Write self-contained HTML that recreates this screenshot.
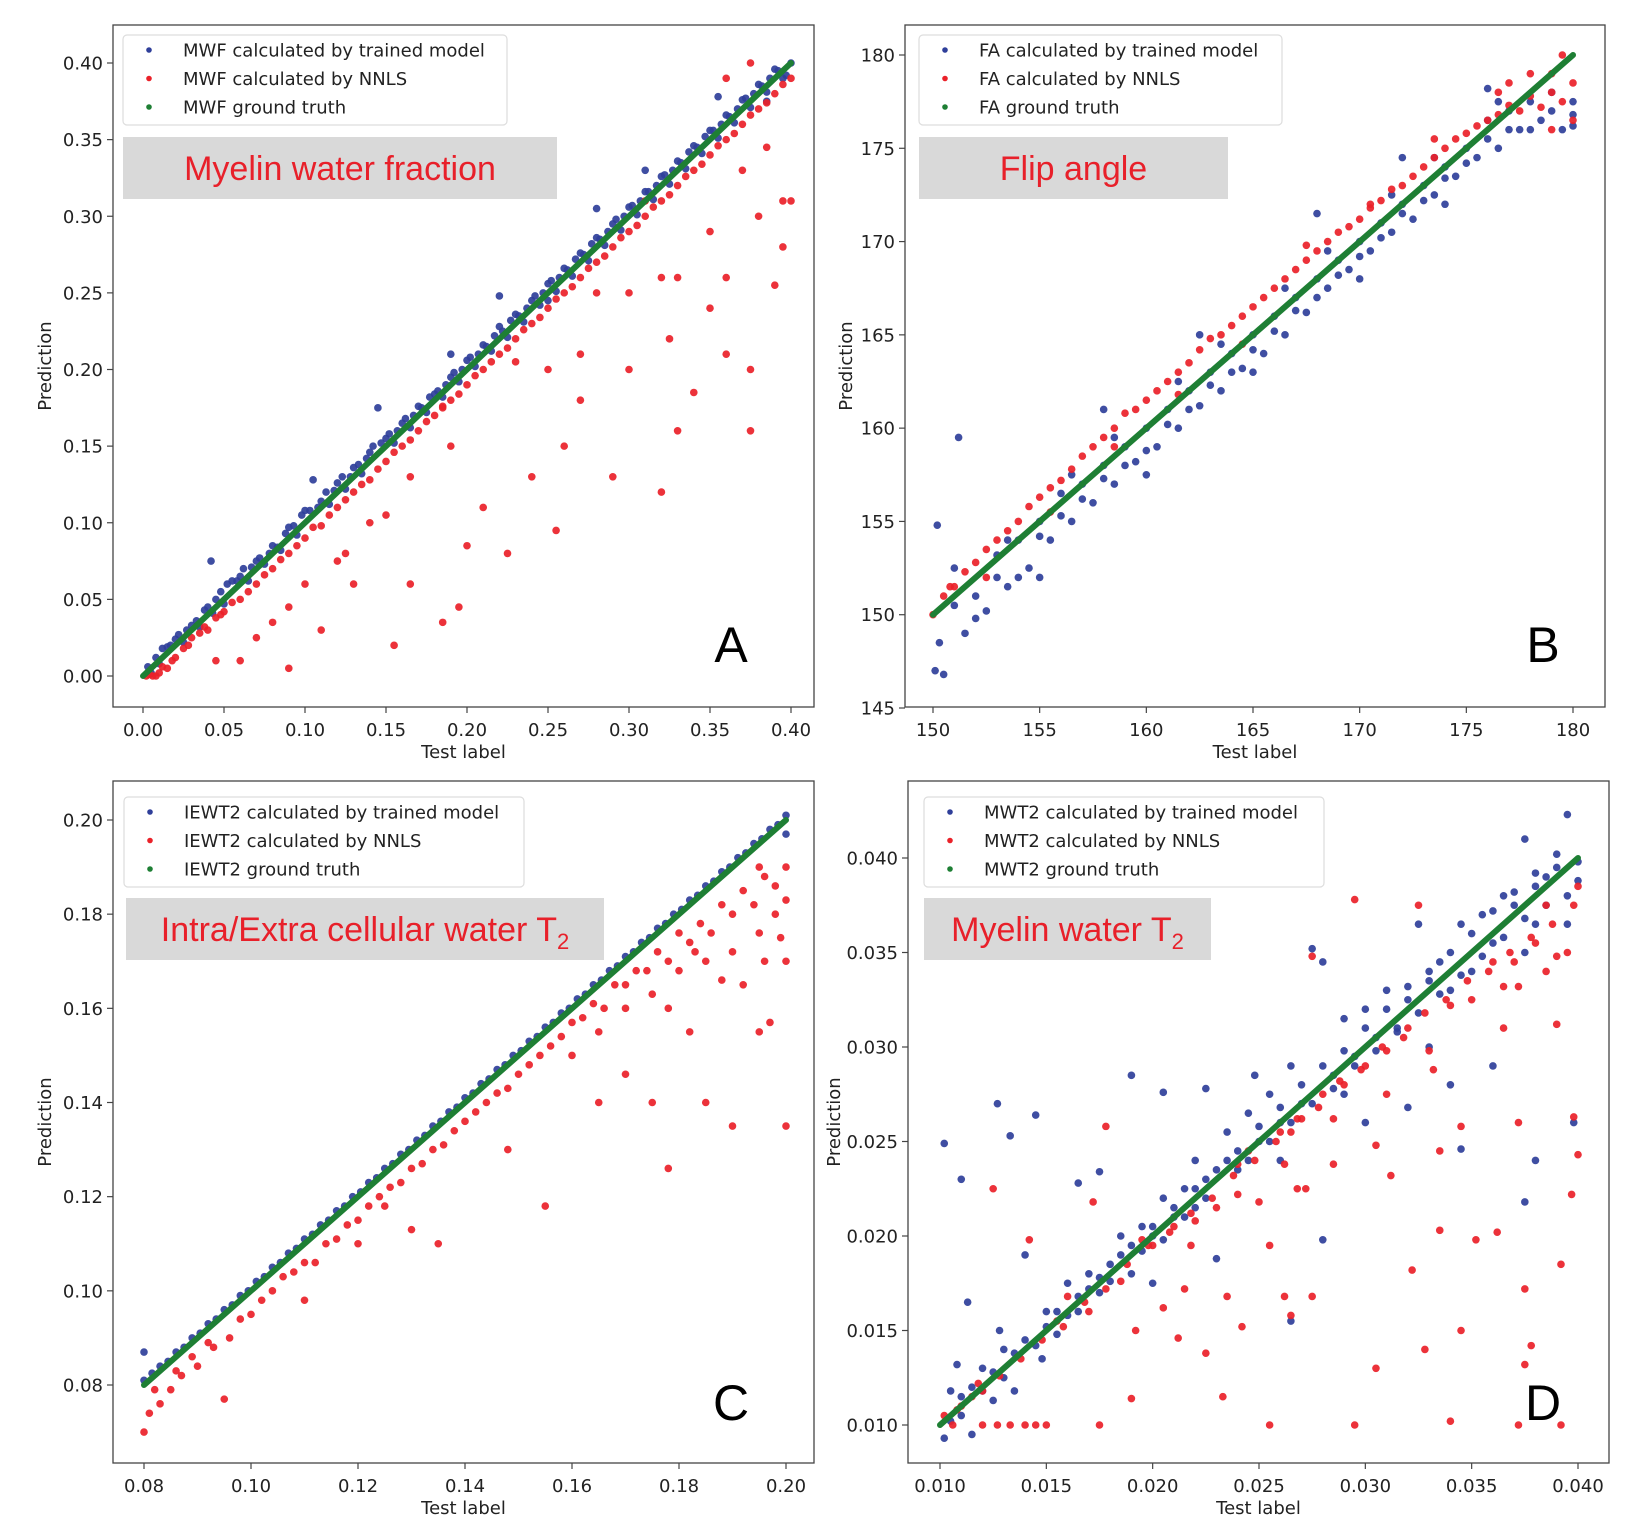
<!DOCTYPE html>
<html><head><meta charset="utf-8"><style>
html,body{margin:0;padding:0;background:#fff;}
svg{display:block;font-family:"DejaVu Sans","Liberation Sans",sans-serif;}
</style></head><body>
<svg id="fig" width="1636" height="1536" viewBox="0 0 1636 1536" xmlns="http://www.w3.org/2000/svg"></svg>
<script>
// ---------- Panel A data (MWF) ----------
const aBlue = [[0.003,0.006],[0.008,0.012],[0.012,0.018],[0.017,0.02],[0.022,0.027],[0.027,0.03],[0.033,0.036],[0.038,0.043],[0.043,0.041],[0.048,0.055],[0.052,0.06],[0.058,0.062],[0.062,0.07],[0.067,0.071],[0.072,0.077],[0.078,0.08],[0.083,0.084],[0.088,0.093],[0.093,0.098],[0.098,0.105],[0.103,0.108],[0.108,0.11],[0.113,0.12],[0.118,0.121],[0.123,0.13],[0.128,0.13],[0.133,0.138],[0.138,0.142],[0.142,0.15],[0.147,0.152],[0.152,0.158],[0.157,0.16],[0.162,0.168],[0.167,0.17],[0.172,0.175],[0.177,0.182],[0.182,0.186],[0.187,0.19],[0.192,0.198],[0.197,0.2],[0.202,0.208],[0.207,0.21],[0.212,0.215],[0.217,0.222],[0.222,0.225],[0.227,0.232],[0.232,0.235],[0.237,0.24],[0.242,0.248],[0.247,0.25],[0.252,0.258],[0.257,0.26],[0.262,0.265],[0.267,0.272],[0.272,0.275],[0.277,0.282],[0.282,0.285],[0.287,0.29],[0.292,0.298],[0.297,0.3],[0.302,0.307],[0.307,0.31],[0.312,0.316],[0.317,0.32],[0.322,0.327],[0.327,0.33],[0.332,0.335],[0.337,0.342],[0.342,0.345],[0.347,0.352],[0.352,0.356],[0.357,0.36],[0.362,0.365],[0.367,0.37],[0.372,0.377],[0.377,0.38],[0.382,0.385],[0.387,0.39],[0.392,0.395],[0.397,0.392],[0.145,0.175],[0.22,0.248],[0.28,0.305],[0.355,0.378],[0.042,0.075],[0.105,0.128],[0.19,0.21],[0.31,0.33],[0.385,0.375],[0.25,0.245]];
const aBlue2 = [[0.005,0.002],[0.01,0.008],[0.015,0.019],[0.02,0.024],[0.025,0.022],[0.03,0.033],[0.035,0.032],[0.04,0.045],[0.045,0.05],[0.05,0.047],[0.055,0.062],[0.06,0.065],[0.065,0.062],[0.07,0.075],[0.075,0.073],[0.08,0.085],[0.085,0.082],[0.09,0.097],[0.095,0.092],[0.1,0.108],[0.11,0.114],[0.115,0.112],[0.12,0.126],[0.125,0.122],[0.13,0.136],[0.135,0.132],[0.14,0.146],[0.15,0.155],[0.155,0.152],[0.16,0.165],[0.165,0.162],[0.17,0.176],[0.175,0.172],[0.18,0.184],[0.185,0.182],[0.19,0.195],[0.195,0.192],[0.2,0.206],[0.205,0.202],[0.21,0.216],[0.215,0.212],[0.22,0.228],[0.225,0.221],[0.23,0.236],[0.235,0.231],[0.24,0.245],[0.245,0.242],[0.25,0.256],[0.255,0.251],[0.26,0.266],[0.265,0.261],[0.27,0.276],[0.275,0.271],[0.28,0.286],[0.285,0.281],[0.29,0.295],[0.295,0.291],[0.3,0.306],[0.305,0.301],[0.31,0.316],[0.315,0.311],[0.32,0.326],[0.325,0.321],[0.33,0.336],[0.335,0.331],[0.34,0.346],[0.345,0.341],[0.35,0.356],[0.355,0.351],[0.36,0.366],[0.365,0.361],[0.37,0.376],[0.375,0.371],[0.38,0.386],[0.385,0.381],[0.39,0.396],[0.395,0.39],[0.4,0.4]];
const aRed = [[0.002,0.0],[0.006,0.0],[0.01,0.002],[0.015,0.005],[0.02,0.012],[0.025,0.018],[0.03,0.025],[0.035,0.028],[0.04,0.03],[0.045,0.038],[0.05,0.042],[0.06,0.05],[0.07,0.06],[0.08,0.07],[0.09,0.08],[0.1,0.09],[0.11,0.098],[0.12,0.11],[0.13,0.12],[0.14,0.128],[0.15,0.14],[0.16,0.15],[0.17,0.16],[0.18,0.17],[0.19,0.18],[0.2,0.19],[0.21,0.2],[0.22,0.21],[0.23,0.22],[0.24,0.23],[0.25,0.24],[0.26,0.25],[0.27,0.26],[0.28,0.27],[0.29,0.28],[0.3,0.29],[0.31,0.3],[0.32,0.31],[0.33,0.32],[0.34,0.33],[0.35,0.34],[0.36,0.35],[0.37,0.36],[0.38,0.37],[0.39,0.38],[0.4,0.39],[0.045,0.01],[0.06,0.01],[0.09,0.005],[0.11,0.03],[0.09,0.045],[0.07,0.025],[0.13,0.06],[0.125,0.08],[0.155,0.02],[0.165,0.06],[0.185,0.035],[0.195,0.045],[0.2,0.085],[0.21,0.11],[0.225,0.08],[0.24,0.13],[0.255,0.095],[0.26,0.15],[0.27,0.18],[0.29,0.13],[0.3,0.2],[0.32,0.12],[0.325,0.22],[0.33,0.16],[0.34,0.185],[0.35,0.24],[0.36,0.26],[0.375,0.16],[0.375,0.2],[0.38,0.3],[0.39,0.255],[0.395,0.28],[0.4,0.31],[0.395,0.31],[0.37,0.33],[0.33,0.26],[0.36,0.21],[0.28,0.25],[0.3,0.25],[0.19,0.15],[0.165,0.13],[0.15,0.105],[0.185,0.175],[0.23,0.205],[0.14,0.1],[0.1,0.06],[0.12,0.075],[0.08,0.035],[0.25,0.2],[0.27,0.21],[0.32,0.26],[0.35,0.29],[0.385,0.345],[0.375,0.4],[0.36,0.39],[0.31,0.31]];
const aRed2 = [[0.004,0.001],[0.008,0.0],[0.012,0.006],[0.018,0.01],[0.028,0.02],[0.038,0.032],[0.048,0.04],[0.055,0.048],[0.065,0.055],[0.075,0.066],[0.085,0.076],[0.095,0.085],[0.105,0.097],[0.115,0.105],[0.125,0.115],[0.135,0.125],[0.145,0.135],[0.155,0.146],[0.165,0.154],[0.175,0.166],[0.185,0.176],[0.195,0.184],[0.205,0.196],[0.215,0.205],[0.225,0.214],[0.235,0.226],[0.245,0.234],[0.255,0.246],[0.265,0.254],[0.275,0.266],[0.285,0.274],[0.295,0.286],[0.305,0.294],[0.315,0.306],[0.325,0.314],[0.335,0.326],[0.345,0.334],[0.355,0.346],[0.365,0.354],[0.375,0.366],[0.385,0.374],[0.395,0.386]];
const aTruth = [[0,0],[0.1,0.1],[0.2,0.2],[0.3,0.3],[0.4,0.4]];
const aTicks = ["0.00","0.05","0.10","0.15","0.20","0.25","0.30","0.35","0.40"];

// ---------- Panel B data (FA) ----------
const bBlue = [[150.1,147],[150.3,148.5],[150.5,146.8],[150.2,154.8],[151,152.5],[151.5,149],[152,151],[152.5,150.2],[153,152],[153.5,151.5],[154,154],[154.5,152.5],[155,155],[155.5,154],[156,156.5],[156.5,155],[157,157],[157.5,156],[158,158],[158.5,157],[159,159],[159.5,158.2],[160,160],[160.5,159],[161,161],[161.5,160],[162,162],[162.5,161.2],[163,163],[163.5,162],[164,164],[164.5,163.2],[165,165],[165.5,164],[166,166],[166.5,165],[167,167],[167.5,166.2],[168,168],[168.5,167.5],[169,169],[169.5,168.5],[170,170],[170.5,169.5],[171,171],[171.5,170.5],[172,172],[172.5,171.2],[173,173],[173.5,172.5],[174,174],[174.5,173.5],[175,175],[175.5,174.5],[176,176.5],[176.5,175],[177,177],[177.5,176],[178,177.5],[178.5,176.5],[179,177],[179.5,176],[180,177.5],[180,176.2],[151.2,159.5],[158,161],[162.5,165],[168,171.5],[172,174.5],[176,178.2],[155,152],[160,157.5],[165,163],[170,168],[174,172]];
const bBlue2 = [[151,150.5],[152,149.8],[153,153.2],[154,152],[155,154.2],[156,155.3],[157,156.2],[158,157.3],[159,158],[160,158.8],[161,160.2],[162,161],[163,162.3],[164,163],[165,164.2],[166,165.2],[167,166.3],[168,167],[169,168.2],[170,169.2],[171,170.2],[172,171.5],[173,172.2],[174,173.4],[175,174.2],[176,175.5],[177,176],[178,176],[179,178],[180,176.8],[156.5,157.5],[161.5,162.5],[166.5,167.5],[171.5,172.5],[176.5,177.5],[153.5,154],[158.5,159.5],[163.5,164.5],[168.5,169.5],[173.5,174.5]];
const bRed = [[150,150],[150.5,151],[151,151.5],[152,152.8],[153,154],[154,155],[155,156.3],[156,157.2],[157,158.5],[158,159.5],[159,160.8],[160,161.5],[161,162.5],[162,163.5],[163,164.8],[164,165.5],[165,166.5],[166,167.5],[167,168.5],[168,169.5],[169,170.5],[170,171.2],[171,172.2],[172,173],[173,174],[174,175],[175,175.8],[176,176.5],[177,177.3],[178,177.8],[179,178],[180,178.5],[180,176.5],[179,176],[178,179],[152.5,152],[155.5,155.5],[158.5,159],[161.5,161.8],[164.5,164.5],[167.5,169.8],[170.5,172],[173.5,175.5],[176.5,178],[179.5,180]];
const bRed2 = [[150.8,151.5],[151.5,152.3],[152.5,153.5],[153.5,154.5],[154.5,155.8],[155.5,156.8],[156.5,157.8],[157.5,159],[158.5,160],[159.5,161],[160.5,162],[161.5,163],[162.5,164.2],[163.5,165],[164.5,166],[165.5,167],[166.5,168],[167.5,169],[168.5,170],[169.5,170.8],[170.5,171.8],[171.5,172.8],[172.5,173.5],[173.5,174.5],[174.5,175.5],[175.5,176.2],[176.5,176.8],[177.5,177],[178.5,177.2],[179.5,177.5],[179,179],[177,178.5]];
const bTruth = [[150,150],[160,160],[170,170],[180,180]];
const bXTicks = ["150","155","160","165","170","175","180"];
const bYTicks = ["145","150","155","160","165","170","175","180"];

// ---------- Panel C data (IEWT2) ----------
const cBlue = [[0.080,0.081],[0.083,0.084],[0.086,0.087],[0.089,0.09],[0.092,0.093],[0.095,0.096],[0.098,0.099],[0.101,0.102],[0.104,0.105],[0.107,0.108],[0.11,0.111],[0.113,0.114],[0.116,0.117],[0.119,0.12],[0.122,0.123],[0.125,0.126],[0.128,0.129],[0.131,0.132],[0.134,0.135],[0.137,0.138],[0.14,0.141],[0.143,0.144],[0.146,0.147],[0.149,0.15],[0.152,0.153],[0.155,0.156],[0.158,0.159],[0.161,0.162],[0.164,0.165],[0.167,0.168],[0.17,0.171],[0.173,0.174],[0.176,0.177],[0.179,0.18],[0.182,0.183],[0.185,0.186],[0.188,0.189],[0.191,0.192],[0.194,0.195],[0.197,0.198],[0.2,0.201],[0.08,0.087],[0.2,0.197]];
const cBlue2 = [[0.0815,0.0825],[0.0845,0.085],[0.0875,0.088],[0.0905,0.091],[0.0935,0.094],[0.0965,0.097],[0.0995,0.1],[0.1025,0.103],[0.1055,0.106],[0.1085,0.109],[0.1115,0.112],[0.1145,0.115],[0.1175,0.118],[0.1205,0.121],[0.1235,0.124],[0.1265,0.127],[0.1295,0.13],[0.1325,0.133],[0.1355,0.136],[0.1385,0.139],[0.1415,0.142],[0.1445,0.145],[0.1475,0.148],[0.1505,0.151],[0.1535,0.154],[0.1565,0.157],[0.1595,0.16],[0.1625,0.163],[0.1655,0.166],[0.1685,0.169],[0.1715,0.172],[0.1745,0.175],[0.1775,0.178],[0.1805,0.181],[0.1835,0.184],[0.1865,0.187],[0.1895,0.19],[0.1925,0.193],[0.1955,0.196],[0.1985,0.199]];
const cRed = [[0.08,0.07],[0.081,0.074],[0.083,0.076],[0.085,0.079],[0.087,0.082],[0.09,0.084],[0.093,0.088],[0.096,0.09],[0.1,0.095],[0.104,0.1],[0.108,0.104],[0.112,0.106],[0.116,0.111],[0.12,0.115],[0.124,0.12],[0.128,0.123],[0.132,0.127],[0.136,0.131],[0.14,0.136],[0.144,0.14],[0.148,0.143],[0.152,0.148],[0.156,0.152],[0.16,0.157],[0.164,0.161],[0.168,0.165],[0.172,0.168],[0.176,0.172],[0.18,0.176],[0.184,0.178],[0.188,0.182],[0.192,0.185],[0.196,0.188],[0.2,0.19],[0.198,0.18],[0.195,0.176],[0.19,0.172],[0.185,0.17],[0.18,0.168],[0.175,0.163],[0.17,0.16],[0.165,0.155],[0.16,0.15],[0.155,0.118],[0.178,0.126],[0.185,0.14],[0.19,0.135],[0.195,0.155],[0.2,0.135],[0.197,0.157],[0.2,0.17],[0.192,0.165],[0.175,0.14],[0.17,0.146],[0.165,0.14],[0.148,0.13],[0.135,0.11],[0.13,0.113],[0.125,0.118],[0.11,0.098],[0.095,0.077],[0.12,0.11],[0.182,0.155],[0.2,0.183],[0.195,0.19]];
const cRed2 = [[0.082,0.079],[0.086,0.083],[0.089,0.086],[0.092,0.089],[0.098,0.094],[0.102,0.098],[0.106,0.103],[0.11,0.106],[0.114,0.11],[0.118,0.114],[0.122,0.118],[0.126,0.122],[0.13,0.126],[0.134,0.13],[0.138,0.134],[0.142,0.138],[0.146,0.142],[0.15,0.146],[0.154,0.15],[0.158,0.154],[0.162,0.158],[0.166,0.16],[0.17,0.165],[0.174,0.168],[0.178,0.17],[0.182,0.174],[0.186,0.176],[0.19,0.18],[0.194,0.182],[0.198,0.186],[0.199,0.175],[0.196,0.17],[0.188,0.166],[0.183,0.172],[0.178,0.16]];
const cTruth = [[0.08,0.08],[0.12,0.12],[0.16,0.16],[0.2,0.2]];
const cTicks = ["0.08","0.10","0.12","0.14","0.16","0.18","0.20"];

// ---------- Panel D data (MWT2) ----------
const dBlue = [[0.0102,0.0093],[0.0105,0.0118],[0.011,0.0105],[0.0108,0.0132],[0.0115,0.0095],[0.012,0.013],[0.0125,0.0113],[0.013,0.014],[0.0102,0.0249],[0.011,0.023],[0.0127,0.027],[0.0133,0.0253],[0.0145,0.0264],[0.014,0.019],[0.015,0.016],[0.0155,0.0148],[0.016,0.0175],[0.0165,0.016],[0.017,0.018],[0.0175,0.017],[0.018,0.0185],[0.0185,0.02],[0.019,0.0285],[0.0205,0.0276],[0.019,0.018],[0.0195,0.0205],[0.02,0.02],[0.0205,0.022],[0.021,0.021],[0.0215,0.0225],[0.022,0.0215],[0.0225,0.023],[0.023,0.0188],[0.0235,0.0255],[0.024,0.0235],[0.0245,0.0265],[0.025,0.025],[0.0255,0.0275],[0.026,0.026],[0.0265,0.029],[0.027,0.027],[0.0275,0.0352],[0.028,0.0345],[0.0285,0.0285],[0.029,0.0315],[0.0295,0.0295],[0.03,0.032],[0.0305,0.0305],[0.031,0.033],[0.0315,0.031],[0.032,0.0325],[0.0325,0.0365],[0.033,0.03],[0.0335,0.0345],[0.034,0.033],[0.0345,0.0365],[0.035,0.034],[0.0355,0.037],[0.036,0.0355],[0.0365,0.038],[0.037,0.0375],[0.0375,0.041],[0.038,0.0385],[0.0385,0.039],[0.039,0.0395],[0.0395,0.0423],[0.04,0.0398],[0.0395,0.0365],[0.0375,0.0218],[0.038,0.024],[0.0398,0.026],[0.034,0.028],[0.036,0.029],[0.032,0.0268],[0.03,0.026],[0.0265,0.0155],[0.0248,0.0285],[0.0225,0.0278],[0.0175,0.0234],[0.0165,0.0228],[0.028,0.0198],[0.0345,0.0246],[0.038,0.0365],[0.0375,0.035],[0.033,0.0335],[0.029,0.0275],[0.0135,0.0118],[0.0128,0.015],[0.0113,0.0165],[0.0148,0.0135],[0.02,0.0175],[0.022,0.024],[0.026,0.024]];
const dBlue2 = [[0.0105,0.0102],[0.011,0.0115],[0.0115,0.012],[0.012,0.0118],[0.0125,0.0128],[0.013,0.0125],[0.0135,0.0138],[0.014,0.0145],[0.0145,0.0142],[0.015,0.0152],[0.0155,0.016],[0.016,0.0158],[0.0165,0.0168],[0.017,0.0172],[0.0175,0.0178],[0.018,0.0176],[0.0185,0.019],[0.019,0.0195],[0.0195,0.0192],[0.02,0.0205],[0.0205,0.0198],[0.021,0.0215],[0.0215,0.021],[0.022,0.0225],[0.0225,0.022],[0.023,0.0235],[0.0235,0.024],[0.024,0.0245],[0.0245,0.024],[0.025,0.0258],[0.0255,0.025],[0.026,0.0268],[0.0265,0.026],[0.027,0.028],[0.0275,0.027],[0.028,0.029],[0.0285,0.0278],[0.029,0.0298],[0.0295,0.029],[0.03,0.031],[0.0305,0.0298],[0.031,0.032],[0.0315,0.0308],[0.032,0.0332],[0.0325,0.0318],[0.033,0.034],[0.0335,0.0328],[0.034,0.035],[0.0345,0.0338],[0.035,0.036],[0.0355,0.0348],[0.036,0.0372],[0.0365,0.0358],[0.037,0.0382],[0.0375,0.0368],[0.038,0.0392],[0.0385,0.0375],[0.039,0.0402],[0.0395,0.038],[0.04,0.0388]];
const dRed = [[0.0102,0.0105],[0.0106,0.01],[0.011,0.011],[0.0115,0.0115],[0.012,0.01],[0.0127,0.01],[0.0133,0.01],[0.014,0.01],[0.0145,0.01],[0.015,0.01],[0.0175,0.01],[0.0255,0.01],[0.0295,0.01],[0.034,0.0102],[0.0372,0.01],[0.0392,0.01],[0.012,0.0118],[0.0125,0.0225],[0.0142,0.0198],[0.0155,0.0155],[0.016,0.0168],[0.017,0.016],[0.0172,0.0218],[0.0178,0.0258],[0.0185,0.0176],[0.019,0.0114],[0.0192,0.015],[0.0195,0.0198],[0.02,0.0195],[0.0205,0.0162],[0.021,0.0205],[0.0212,0.0146],[0.0215,0.0172],[0.022,0.0208],[0.0225,0.0138],[0.023,0.0215],[0.0233,0.0115],[0.0235,0.0168],[0.024,0.0238],[0.0242,0.0152],[0.0245,0.0245],[0.025,0.0218],[0.0255,0.0195],[0.026,0.0255],[0.0262,0.0168],[0.0265,0.0255],[0.027,0.0262],[0.0272,0.0225],[0.0275,0.0348],[0.028,0.0275],[0.0285,0.0238],[0.029,0.028],[0.0295,0.0378],[0.03,0.029],[0.0305,0.0248],[0.031,0.0298],[0.0312,0.0232],[0.032,0.031],[0.0322,0.0182],[0.0325,0.0375],[0.033,0.0298],[0.0335,0.0245],[0.0335,0.0203],[0.034,0.0322],[0.0345,0.0258],[0.035,0.0325],[0.0352,0.0198],[0.036,0.0345],[0.0362,0.0202],[0.0365,0.0332],[0.037,0.0345],[0.0372,0.026],[0.0375,0.0172],[0.0375,0.0132],[0.0378,0.0142],[0.038,0.0355],[0.0385,0.0375],[0.039,0.0348],[0.0392,0.0185],[0.0395,0.035],[0.0397,0.0222],[0.0398,0.0263],[0.04,0.0385],[0.04,0.0243],[0.0328,0.014],[0.0345,0.015],[0.0305,0.013],[0.0265,0.0158],[0.0275,0.0168],[0.0268,0.0225]];
const dRed2 = [[0.0108,0.0108],[0.0118,0.0122],[0.0128,0.0126],[0.0138,0.0135],[0.0148,0.0145],[0.0158,0.0152],[0.0168,0.0165],[0.0178,0.0172],[0.0188,0.0185],[0.0198,0.0195],[0.0208,0.0202],[0.0218,0.0212],[0.0228,0.022],[0.0238,0.0232],[0.0248,0.024],[0.0258,0.025],[0.0268,0.0262],[0.0278,0.0268],[0.0288,0.0282],[0.0298,0.0288],[0.0308,0.03],[0.0318,0.0305],[0.0328,0.0318],[0.0338,0.0325],[0.0348,0.0335],[0.0358,0.034],[0.0368,0.035],[0.0378,0.0358],[0.0388,0.0365],[0.0398,0.0375],[0.0372,0.0332],[0.0385,0.034],[0.039,0.0312],[0.0365,0.031],[0.0332,0.0288],[0.031,0.0275],[0.0285,0.0262],[0.0262,0.0238],[0.024,0.0222],[0.0218,0.0195]];
const dTruth = [[0.01,0.01],[0.02,0.02],[0.03,0.03],[0.04,0.04]];
const dTicks = ["0.010","0.015","0.020","0.025","0.030","0.035","0.040"];

const NS = "http://www.w3.org/2000/svg";
const svg = document.getElementById('fig');
function mk(tag, attrs, parent){ const e=document.createElementNS(NS,tag); for(const k in attrs) e.setAttribute(k,attrs[k]); (parent||svg).appendChild(e); return e; }
function lin(d0,d1,p0,p1){ return v => p0 + (v-d0)/(d1-d0)*(p1-p0); }

const BLUE="#2f3f9a", RED="#ea2129", GREEN="#1e7f34";

function panel(cfg){
  const g = mk('g',{});
  
  
  const sx = lin(cfg.xd[0],cfg.xd[1],cfg.xp[0],cfg.xp[1]);
  const sy = lin(cfg.yd[0],cfg.yd[1],cfg.yp[0],cfg.yp[1]);
  const fr = mk('rect',{x:cfg.L,y:cfg.T,width:cfg.R-cfg.L,height:cfg.B-cfg.T,fill:'none',stroke:'#444','stroke-width':1.3},g);
  
  
  cfg.xTicks.forEach(t=>{
    const x = sx(parseFloat(t));
    mk('line',{x1:x,y1:cfg.B,x2:x,y2:cfg.B+6,stroke:'#444','stroke-width':1.2},g);
    const tx = mk('text',{x:x,y:cfg.B+29,'text-anchor':'middle','font-size':18,fill:'#222'},g);
    tx.textContent=t;
    
    
  });
  cfg.yTicks.forEach(t=>{
    const y = sy(parseFloat(t));
    mk('line',{x1:cfg.L-6,y1:y,x2:cfg.L,y2:y,stroke:'#444','stroke-width':1.2},g);
    const tx = mk('text',{x:cfg.L-10,y:y+6.5,'text-anchor':'end','font-size':18,fill:'#222'},g);
    tx.textContent=t;
    
    
  });
  const xt = mk('text',{x:(cfg.L+cfg.R)/2,y:cfg.B+51,'text-anchor':'middle','font-size':18,fill:'#222'},g);
  xt.textContent='Test label';
  
  
  const yx = cfg.ylabX, yy=(cfg.T+cfg.B)/2;
  const yt = mk('text',{x:yx,y:yy,'text-anchor':'middle','font-size':18,fill:'#222',transform:`rotate(-90 ${yx} ${yy})`},g);
  yt.textContent='Prediction';
  
  
  const sb = mk('g',{fill:BLUE,'fill-opacity':0.92},g);
  
  
  cfg.blue.forEach(p=>{ const c=mk('circle',{cx:sx(p[0]),cy:sy(p[1]),r:3.8},sb);
    
     });
  const sr = mk('g',{fill:RED,'fill-opacity':0.92},g);
  
  
  cfg.red.forEach(p=>{ const c=mk('circle',{cx:sx(p[0]),cy:sy(p[1]),r:3.8},sr);
    
     });
  const pts = cfg.truth.map(p=>sx(p[0])+','+sy(p[1])).join(' ');
  const gl = mk('polyline',{points:pts,fill:'none',stroke:GREEN,'stroke-width':6,'stroke-linecap':'round'},g);
  
  
  const lg = mk('g',{},g);
  
  
  mk('rect',{x:cfg.lg[0],y:cfg.lg[1],width:cfg.lg[2],height:90,rx:4,fill:'#fff','fill-opacity':0.85,stroke:'#ddd','stroke-width':1.2},lg);
  const names=[' calculated by trained model',' calculated by NNLS',' ground truth'];
  [BLUE,RED,GREEN].forEach((col,i)=>{
    const y = cfg.lg[1]+15+i*28.5;
    mk('circle',{cx:cfg.lg[0]+26,cy:y,r:2.8,fill:col},lg);
    const t = mk('text',{x:cfg.lg[0]+60,y:y+6.5,'font-size':18,fill:'#222'},lg);
    t.textContent = cfg.label + names[i];
    
    
  });
  const tb = cfg.tb;
  const tr = mk('rect',{x:tb[0],y:tb[1],width:tb[2],height:tb[3],fill:'#d9d9d9'},g);
  
  
  const tt = mk('text',{x:tb[0]+tb[2]/2,y:tb[1]+tb[3]/2+12,'text-anchor':'middle','font-size':34,fill:'#e8202a','font-family':'"Liberation Sans",sans-serif'},g);
  
  
  tt.appendChild(document.createTextNode(cfg.title));
  if(cfg.sub){ const s=document.createElementNS(NS,'tspan'); s.setAttribute('font-size','22'); s.setAttribute('dy','8'); s.textContent='2'; tt.appendChild(s); }
  const lt = mk('text',{x:cfg.letter[0],y:cfg.letter[1],'text-anchor':'middle','font-size':50,fill:'#000','font-family':'"Liberation Sans",sans-serif'},g);
  lt.textContent = cfg.id;
  
  
}

panel({id:'A',L:113,R:814,T:25,B:707,xd:[0,0.4],xp:[143,791],yd:[0,0.4],yp:[676,63],
  xTicks:aTicks,yTicks:aTicks,blue:aBlue.concat(aBlue2),red:aRed.concat(aRed2),truth:aTruth,ylabX:51,label:'MWF',
  lg:[123,35,384],tb:[123,137,434,62],title:'Myelin water fraction',sub:false,letter:[731,662]});
panel({id:'B',L:905,R:1605,T:25,B:707,xd:[150,180],xp:[933,1573],yd:[145,180],yp:[708,55],
  xTicks:bXTicks,yTicks:bYTicks,blue:bBlue.concat(bBlue2),red:bRed.concat(bRed2),truth:bTruth,ylabX:852,label:'FA',
  lg:[919,35,363],tb:[919,137,309,62],title:'Flip angle',sub:false,letter:[1543,662]});
panel({id:'C',L:113,R:814,T:781,B:1463,xd:[0.08,0.2],xp:[144,786],yd:[0.08,0.2],yp:[1385,820],
  xTicks:cTicks,yTicks:cTicks,blue:cBlue.concat(cBlue2),red:cRed.concat(cRed2),truth:cTruth,ylabX:51,label:'IEWT2',
  lg:[124,797,400],tb:[126,898,478,62],title:'Intra/Extra cellular water T',sub:true,letter:[731,1420]});
panel({id:'D',L:908,R:1609,T:781,B:1463,xd:[0.01,0.04],xp:[940,1578],yd:[0.01,0.04],yp:[1425,858],
  xTicks:dTicks,yTicks:dTicks,blue:dBlue.concat(dBlue2),red:dRed.concat(dRed2),truth:dTruth,ylabX:840,label:'MWT2',
  lg:[924,797,400],tb:[924,898,287,62],title:'Myelin water T',sub:true,letter:[1543,1420]});
</script>
</body></html>
